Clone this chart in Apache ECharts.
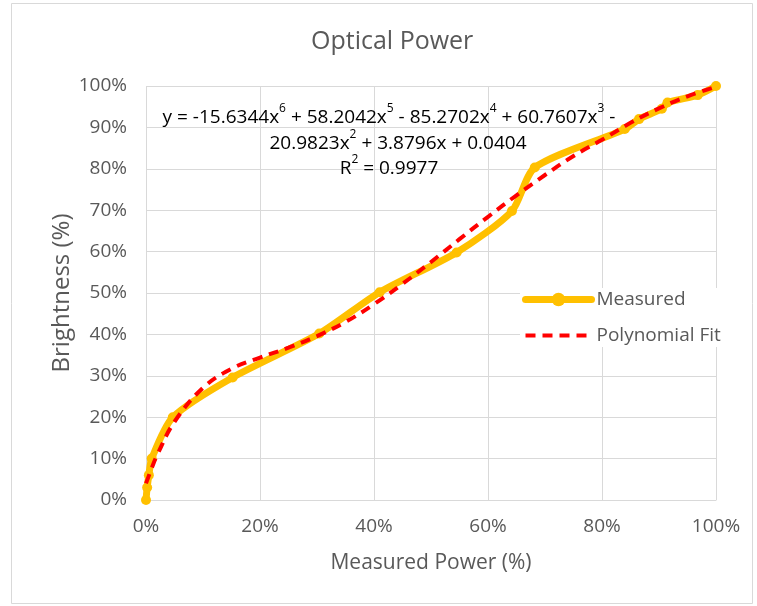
<!DOCTYPE html>
<html>
<head>
<meta charset="utf-8">
<style>
  html, body { margin: 0; padding: 0; background: #fff; }
  #chart { width: 757px; height: 606px; }
</style>
<script src="https://cdn.jsdelivr.net/npm/echarts@6/dist/echarts.min.js"></script>
</head>
<body>
<div id="chart"></div>
<script>
// Measured optical power (%) vs. brightness setting (%)
const measuredPower = [0, 0.2, 0.5, 1, 4.7, 15.2, 30.4, 41, 54.5, 64.2, 68.2, 84, 86.5, 90.5, 91.5, 96.8, 100];
const measuredBrightness = [0, 3, 6, 10, 20, 29.6, 40.2, 50.2, 59.8, 69.8, 80.3, 89.6, 92, 94.5, 96, 97.8, 100];

// Sixth-order polynomial trend line, sampled along the x axis
const fitPower = [0, 1, 2, 5, 10, 15, 20, 25, 30, 35, 40, 45, 50, 55, 60, 65, 70, 75, 80, 85, 90, 95, 100];
const fitBrightness = [4.0, 7.7, 11.0, 18.9, 27.1, 31.7, 34.4, 36.8, 39.6, 43.0, 47.3, 52.2, 57.5, 63.0, 68.4, 73.6, 78.5, 83.1, 87.0, 91.1, 94.6, 97.5, 99.8];

const xTicks = ['0%', '20%', '40%', '60%', '80%', '100%'];

// Trend-line equation, written as rich-text runs so exponents sit raised
const equationLine1 = '{n|y = -15.6344x}{s|6}{n| + 58.2042x}{s|5}{n| - 85.2702x}{s|4}{n| + 60.7607x}{s|3}{n| -}';
const equationLine2 = '{n|20.9823x}{s|2}{n| + 3.8796x + 0.0404}';
const equationLine3 = '{n|R}{s|2}{n| = 0.9977}';

const FONT = '"Open Sans", Lato, sans-serif';
const TEXT = '#595959';
const GRID = '#d9d9d9';

const eqRich = {
  n: { fontFamily: FONT, fontSize: 19, color: TEXT, lineHeight: 24, verticalAlign: 'bottom' },
  s: { fontFamily: FONT, fontSize: 12, color: TEXT, lineHeight: 22, verticalAlign: 'top' }
};

const chart = echarts.init(document.getElementById('chart'), null, { renderer: 'canvas' });

const pairs = (xs, ys) => xs.map((x, i) => [x, ys[i]]);

chart.setOption({
  backgroundColor: '#fff',
  animation: false,
  textStyle: { fontFamily: FONT },
  title: {
    text: 'Optical Power',
    left: 306,
    top: 24,
    textStyle: { fontFamily: FONT, fontSize: 25, fontWeight: 'normal', color: TEXT }
  },
  grid: { left: 146, right: 41, top: 86, bottom: 106, containLabel: false },
  xAxis: {
    type: 'value',
    min: 0, max: 100, interval: 20,
    name: 'Measured Power (%)',
    nameLocation: 'middle',
    nameGap: 53,
    nameTextStyle: { fontFamily: FONT, fontSize: 21, color: TEXT },
    axisLine: { show: true, lineStyle: { color: GRID, width: 1 } },
    axisTick: { show: false },
    axisLabel: { fontFamily: FONT, fontSize: 19, color: TEXT, margin: 17,
      formatter: v => xTicks[Math.round(v / 20)] },
    splitLine: { show: true, lineStyle: { color: GRID, width: 1 } }
  },
  yAxis: {
    type: 'value',
    min: 0, max: 100, interval: 10,
    name: 'Brightness (%)',
    nameLocation: 'middle',
    nameMoveOverlap: false,
    nameGap: 72,
    nameRotate: 90,
    nameTextStyle: { fontFamily: FONT, fontSize: 24, color: TEXT },
    axisLine: { show: false },
    axisTick: { show: false },
    axisLabel: { fontFamily: FONT, fontSize: 19, color: TEXT, margin: 19, formatter: '{value}%' },
    splitLine: { show: true, lineStyle: { color: GRID, width: 1 } }
  },
  legend: {
    orient: 'vertical',
    left: 520,
    top: 288,
    itemWidth: 66,
    itemHeight: 17,
    itemGap: 17,
    padding: [2, 6, 2, 2],
    backgroundColor: '#fff',
    textStyle: { fontFamily: FONT, fontSize: 19, color: TEXT, padding: [0, 0, 0, 0] },
    data: [
      { name: 'Measured', lineStyle: { width: 7 } },
      { name: 'Polynomial Fit', lineStyle: { width: 4 }, itemStyle: { opacity: 0 } }
    ]
  },
  series: [
    {
      name: 'Measured',
      type: 'line',
      data: pairs(measuredPower, measuredBrightness),
      smooth: 0.25,
      symbol: 'circle',
      symbolSize: 10,
      showSymbol: true,
      lineStyle: { color: '#FFC000', width: 7, cap: 'round', join: 'round' },
      itemStyle: { color: '#FFC000', borderWidth: 0 },
      z: 2
    },
    {
      name: 'Polynomial Fit',
      type: 'line',
      data: pairs(fitPower, fitBrightness),
      smooth: 0.4,
      symbol: 'none',
      lineStyle: { color: '#FF0000', width: 4, type: [10, 7] },
      itemStyle: { color: '#FF0000' },
      z: 3
    }
  ],
  graphic: [
    {
      type: 'rect',
      shape: { x: 11.5, y: 3.5, width: 741, height: 600 },
      style: { fill: 'none', stroke: '#d9d9d9', lineWidth: 1 },
      silent: true, z: -10
    },
    {
      type: 'text', z: 10,
      style: { text: equationLine1, rich: eqRich, x: 389, y: 115, align: 'center', verticalAlign: 'middle' }
    },
    {
      type: 'text', z: 10,
      style: { text: equationLine2, rich: eqRich, x: 398, y: 141, align: 'center', verticalAlign: 'middle' }
    },
    {
      type: 'text', z: 10,
      style: { text: equationLine3, rich: eqRich, x: 389, y: 166, align: 'center', verticalAlign: 'middle' }
    }
  ]
});
</script>
</body>
</html>
